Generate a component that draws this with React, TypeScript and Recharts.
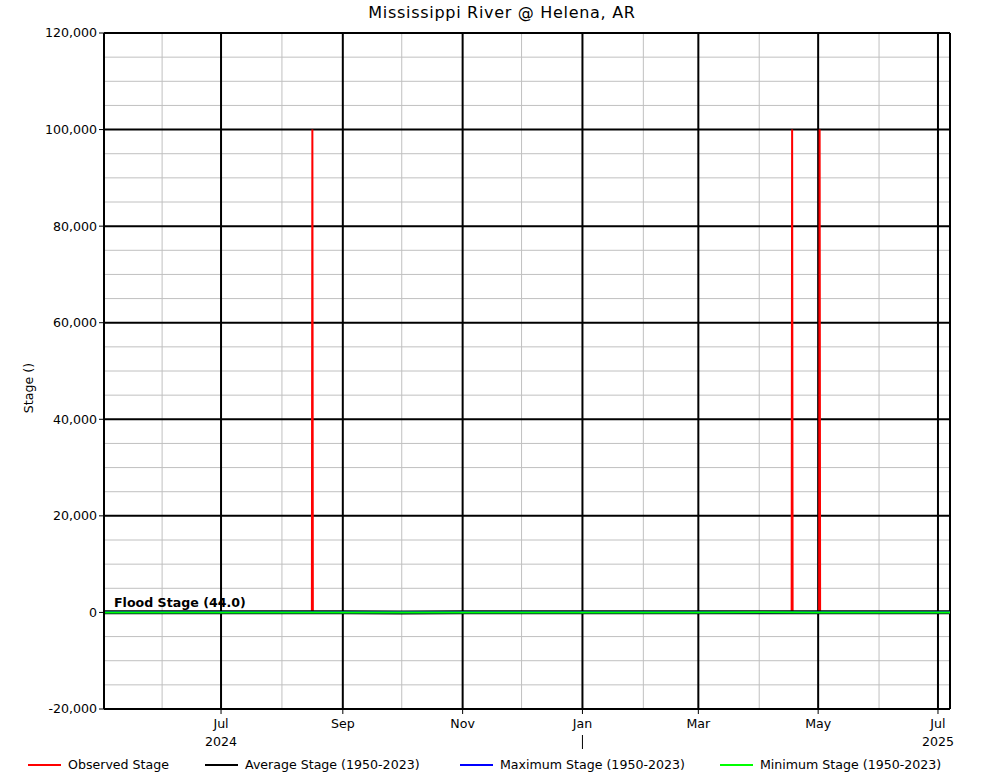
import React from 'react';
import { LineChart, Line, XAxis, YAxis, CartesianGrid, ReferenceLine, Legend } from 'recharts';

const FONT = '"DejaVu Sans", Verdana, sans-serif';
const FS = 12.6;

// x range of the plot (ms)
const X_START = Date.UTC(2024, 4, 2, 10);
const X_END = Date.UTC(2025, 6, 7, 3);

const xTickDates = ['2024-07-01', '2024-09-01', '2024-11-01', '2025-01-01', '2025-03-01', '2025-05-01', '2025-07-01'];
const xTickMonths = ['Jul', 'Sep', 'Nov', 'Jan', 'Mar', 'May', 'Jul'];
const xTickSub = ['2024', '', '', '|', '', '', '2025'];
const xMinorDates = ['2024-06-01', '2024-08-01', '2024-10-01', '2024-12-01', '2025-02-01', '2025-04-01', '2025-06-01'];

const yTicks = [-20000, 0, 20000, 40000, 60000, 80000, 100000, 120000];
const yMinorTicks = [
  -15000, -10000, -5000, 5000, 10000, 15000, 25000, 30000, 35000, 45000, 50000, 55000,
  65000, 70000, 75000, 85000, 90000, 95000, 105000, 110000, 115000,
];

const floodStage = 44.0;

// observed stage (ft); the three bad readings show up as 100,000 spikes
const observedTimes = [
  '2024-05-02T12:00Z', '2024-06-15T12:00Z', '2024-07-20T12:00Z', '2024-08-16T06:00Z', '2024-08-16T12:00Z',
  '2024-08-16T18:00Z', '2024-10-10T12:00Z', '2024-12-20T12:00Z', '2025-02-15T12:00Z', '2025-04-17T12:00Z',
  '2025-04-17T18:00Z', '2025-04-18T00:00Z', '2025-04-25T12:00Z', '2025-05-01T12:00Z', '2025-05-01T18:00Z',
  '2025-05-02T00:00Z', '2025-05-06T12:00Z',
];
const observedStage = [38, 31, 22, 14, 100000, 14, 4, 9, 21, 36, 100000, 36, 38, 39, 100000, 39, 40];

// period of record statistics (ft), monthly
const statMonths = [
  '2024-05-01', '2024-06-01', '2024-07-01', '2024-08-01', '2024-09-01', '2024-10-01', '2024-11-01', '2024-12-01',
  '2025-01-01', '2025-02-01', '2025-03-01', '2025-04-01', '2025-05-01', '2025-06-01', '2025-07-01', '2025-08-01',
];
const averageStage = [35, 31, 25, 18, 12, 10, 12, 18, 24, 30, 37, 40, 36, 31, 25, 18];
const maximumStage = [55, 54, 52, 45, 38, 35, 40, 48, 52, 54, 57, 58, 56, 53, 50, 44];
const minimumStage = [10, 5, 0, -3, -5, -6, -5, -4, -2, 2, 8, 12, 10, 6, 2, -2];

const seriesNames = ['Observed Stage', 'Average Stage (1950-2023)', 'Maximum Stage (1950-2023)', 'Minimum Stage (1950-2023)'];
const seriesColors = ['#ff0000', '#000000', '#0000ff', '#00ff00'];

// legend item widths (px) so the entries line up with the original
const legendItemWidths = [177, 255, 260, 260];

const ts = (s: string) => new Date(s.length === 10 ? s + 'T00:00:00Z' : s).getTime();

const observedData = observedTimes.map((t, i) => ({ t: ts(t), v: observedStage[i] }));
const averageData = statMonths.map((t, i) => ({ t: ts(t), v: averageStage[i] }));
const maximumData = statMonths.map((t, i) => ({ t: ts(t), v: maximumStage[i] }));
const minimumData = statMonths.map((t, i) => ({ t: ts(t), v: minimumStage[i] }));

const xTicks = xTickDates.map(ts);
const xMinor = xMinorDates.map(ts);

function DateTick(props: any) {
  const { x, y, payload } = props;
  const i = xTicks.indexOf(payload.value);
  const sub = xTickSub[i];
  return (
    <g>
      <text x={x} y={y + 12} textAnchor="middle" fontSize={FS} fill="#000" fontFamily={FONT}>
        {xTickMonths[i]}
      </text>
      {sub === '|' ? (
        <line x1={x} x2={x} y1={y + 19} y2={y + 33} stroke="#000" strokeWidth={1} />
      ) : sub ? (
        <text x={x} y={y + 30} textAnchor="middle" fontSize={FS} fill="#000" fontFamily={FONT}>
          {sub}
        </text>
      ) : null}
    </g>
  );
}

function LegendBox() {
  return (
    <div style={{ display: 'flex', alignItems: 'center', fontFamily: FONT, fontSize: FS, color: '#000' }}>
      {seriesNames.map((name, i) => (
        <div key={name} style={{ display: 'flex', alignItems: 'center', width: legendItemWidths[i], flex: 'none' }}>
          <svg width={33} height={4} style={{ display: 'block' }}>
            <line x1={0} x2={33} y1={2} y2={2} stroke={seriesColors[i]} strokeWidth={2} />
          </svg>
          <span style={{ marginLeft: 7, whiteSpace: 'nowrap' }}>{name}</span>
        </div>
      ))}
    </div>
  );
}

export default function App() {
  return (
    <div style={{ position: 'absolute', left: 0, top: 0, width: 1001, height: 780, background: '#fff', overflow: 'hidden' }}>
      <div
        style={{
          position: 'absolute', left: 0, top: 3, width: 1004, textAlign: 'center',
          fontFamily: FONT, fontSize: 16, letterSpacing: 0.7, color: '#000',
        }}
      >
        Mississippi River @ Helena, AR
      </div>
      <LineChart
        width={1001}
        height={780}
        margin={{ top: 33, right: 51, left: 0, bottom: 0 }}
        style={{ fontFamily: FONT }}
      >
        <CartesianGrid
          stroke="#c0c0c0"
          strokeWidth={1}
          horizontalValues={yMinorTicks}
          verticalValues={xMinor}
        />
        <CartesianGrid
          stroke="#000"
          strokeWidth={2}
          horizontalValues={yTicks}
          verticalValues={xTicks}
        />
        <XAxis
          dataKey="t"
          type="number"
          domain={[X_START, X_END]}
          allowDataOverflow
          ticks={xTicks}
          interval={0}
          height={71}
          tickSize={5}
          tick={<DateTick />}
          axisLine={{ stroke: '#000', strokeWidth: 2 }}
          tickLine={{ stroke: '#000' }}
        />
        <YAxis
          type="number"
          domain={[-20000, 120000]}
          ticks={yTicks}
          interval={0}
          width={104}
          tickSize={5}
          tickFormatter={(v: number) => v.toLocaleString('en-US')}
          tick={{ fill: '#000', fontSize: FS, fontFamily: FONT }}
          axisLine={{ stroke: '#000', strokeWidth: 2 }}
          tickLine={{ stroke: '#000' }}
          label={() => (
            <text
              x={33}
              y={388}
              transform="rotate(-90 33 388)"
              textAnchor="middle"
              fontSize={FS}
              fill="#000"
              fontFamily={FONT}
            >
              Stage ()
            </text>
          )}
        />
        <ReferenceLine x={X_END} stroke="#000" strokeWidth={2} ifOverflow="extendDomain" />
        <Line data={observedData} dataKey="v" name={seriesNames[0]} stroke={seriesColors[0]} strokeWidth={2} dot={false} isAnimationActive={false} />
        <Line data={averageData} dataKey="v" name={seriesNames[1]} stroke={seriesColors[1]} strokeWidth={4} dot={false} isAnimationActive={false} />
        <Line data={maximumData} dataKey="v" name={seriesNames[2]} stroke={seriesColors[2]} strokeWidth={2} dot={false} isAnimationActive={false} />
        <Line data={minimumData} dataKey="v" name={seriesNames[3]} stroke={seriesColors[3]} strokeWidth={2} dot={false} isAnimationActive={false} />
        <ReferenceLine
          y={floodStage}
          stroke="none"
          label={(p: any) => (
            <text
              x={(p.viewBox?.x ?? 104) + 10}
              y={(p.viewBox?.y ?? 612) - 5}
              fontSize={FS}
              fontWeight="bold"
              fill="#000"
              fontFamily={FONT}
            >
              {`Flood Stage (${floodStage.toFixed(1)})`}
            </text>
          )}
        />
        <Legend
          layout="horizontal"
          verticalAlign="middle"
          align="center"
          content={<LegendBox />}
          wrapperStyle={{ position: 'absolute', top: 757, left: 28, width: 970, height: 18 }}
        />
      </LineChart>
    </div>
  );
}
